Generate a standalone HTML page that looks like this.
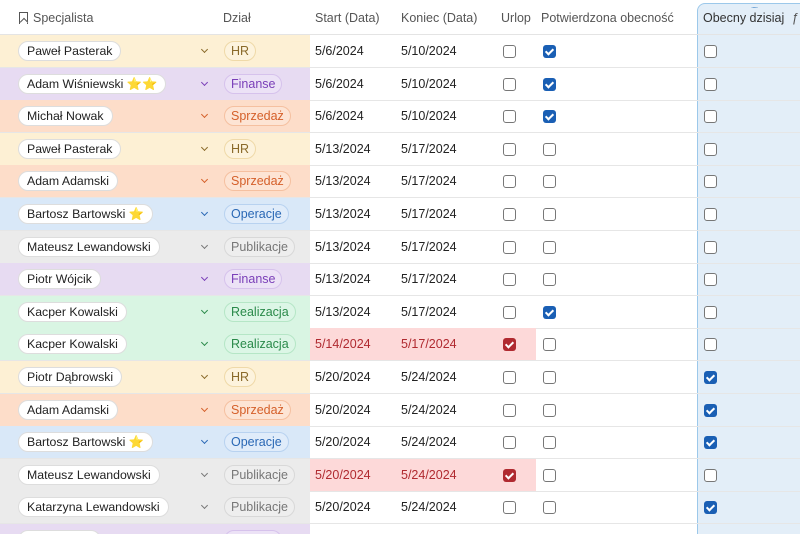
<!DOCTYPE html>
<html><head><meta charset="utf-8"><style>
*{box-sizing:border-box;margin:0;padding:0}
html,body{width:800px;height:534px;overflow:hidden}
body{background:#fff;font-family:"Liberation Sans","DejaVu Sans",sans-serif;font-size:12.5px;color:#222;position:relative}
.hd{position:absolute;top:0;left:0;width:800px;height:35px;border-bottom:1px solid #e4e4e4;color:#555;font-size:12.5px}
.hd span{position:absolute;top:11px}
.bm{position:absolute;left:19px;top:12px;width:9px;height:12px;border:1.5px solid #555;border-bottom:none}
.bm::after{content:"";position:absolute;left:1px;top:6px;width:5px;height:5px;border-left:1.5px solid #555;border-top:1.5px solid #555;transform:rotate(45deg);background:#fff}
.col{position:absolute;left:697px;top:3px;width:110px;height:540px;background:#e3eef8;border:1px solid #9cc8ea;border-radius:8px 0 0 0}
.row{position:absolute;left:0;width:800px;height:33px;border-bottom:1px solid #e6e6e6}
.bg{position:absolute;left:0;top:0;width:310px;height:32px}
.red{position:absolute;left:310px;top:0;width:226px;height:32px;background:#fdd9d9}
.name{position:absolute;left:18px;top:6px;height:20px;line-height:18px;padding:0 8px 0 8px;background:#fff;border:1px solid #ddd;border-radius:10px;color:#222;white-space:nowrap;font-size:12.3px}
.chev{position:absolute;left:202px;top:12px;width:5px;height:5px;border-right:1.5px solid;border-bottom:1.5px solid;transform:rotate(45deg)}
.dep{position:absolute;left:224px;top:6px;height:20px;line-height:18px;padding:0 6px;border-radius:10px;border:1px solid}
.d{position:absolute;top:9px}
.cb{position:absolute;top:10px;width:13px;height:13px;border:1.5px solid #777;border-radius:3px;background:#fff}
.ck{border:none;background:#1a5fb4}
.ck::after{content:"";position:absolute;left:4px;top:2px;width:3px;height:6px;border:solid #fff;border-width:0 2px 2px 0;transform:rotate(45deg)}
.rk{background:#b02a30}
.hr{background:#fdf0d4}.hr .dep{color:#8a6a2a;border-color:#efd9a8;background:#fdf3dd}.hr .chev{color:#8a6a2a}
.fi{background:#e7dbf2}.fi .dep{color:#7a3fb8;border-color:#d6c2ec;background:#ece2f6}.fi .chev{color:#7a3fb8}
.sp{background:#fdddc9}.sp .dep{color:#d5602a;border-color:#f5c0a0;background:#fde4d4}.sp .chev{color:#d5602a}
.op{background:#d9e8f8}.op .dep{color:#2a68b5;border-color:#b8d2f0;background:#e0ecfa}.op .chev{color:#2a68b5}
.pu{background:#ebebeb}.pu .dep{color:#777;border-color:#d8d8d8;background:#eeeeee}.pu .chev{color:#777}
.re{background:#d9f5e3}.re .dep{color:#2a8a4a;border-color:#b5e6c6;background:#dcf6e6}.re .chev{color:#2a8a4a}
.rt{color:#b02a30}
</style></head><body>
<div class="col"></div>
<div class="hd">
<div class="bm"></div><span style="left:33px">Specjalista</span>
<span style="left:223px">Dział</span><span style="left:315px">Start (Data)</span><span style="left:401px">Koniec (Data)</span>
<span style="left:501px">Urlop</span><span style="left:541px">Potwierdzona obecność</span><span style="left:703px;color:#333">Obecny dzisiaj</span>
<span style="left:792px;color:#555">ƒ</span>
<span style="left:751px;top:1px;font-size:8px;color:#4a8ac8;letter-spacing:-1px">.....</span>
</div>

<div class="row" style="top:35px"><div class="bg hr"><div class="name">Paweł Pasterak</div><div class="chev"></div><div class="dep">HR</div></div><span class="d" style="left:315px">5/6/2024</span><span class="d" style="left:401px">5/10/2024</span><span class="cb" style="left:503px"></span><span class="cb ck" style="left:543px"></span><span class="cb" style="left:704px"></span></div>
<div class="row" style="top:67.6px"><div class="bg fi"><div class="name">Adam Wiśniewski ⭐⭐</div><div class="chev"></div><div class="dep">Finanse</div></div><span class="d" style="left:315px">5/6/2024</span><span class="d" style="left:401px">5/10/2024</span><span class="cb" style="left:503px"></span><span class="cb ck" style="left:543px"></span><span class="cb" style="left:704px"></span></div>
<div class="row" style="top:100.2px"><div class="bg sp"><div class="name">Michał Nowak</div><div class="chev"></div><div class="dep">Sprzedaż</div></div><span class="d" style="left:315px">5/6/2024</span><span class="d" style="left:401px">5/10/2024</span><span class="cb" style="left:503px"></span><span class="cb ck" style="left:543px"></span><span class="cb" style="left:704px"></span></div>
<div class="row" style="top:132.8px"><div class="bg hr"><div class="name">Paweł Pasterak</div><div class="chev"></div><div class="dep">HR</div></div><span class="d" style="left:315px">5/13/2024</span><span class="d" style="left:401px">5/17/2024</span><span class="cb" style="left:503px"></span><span class="cb" style="left:543px"></span><span class="cb" style="left:704px"></span></div>
<div class="row" style="top:165.4px"><div class="bg sp"><div class="name">Adam Adamski</div><div class="chev"></div><div class="dep">Sprzedaż</div></div><span class="d" style="left:315px">5/13/2024</span><span class="d" style="left:401px">5/17/2024</span><span class="cb" style="left:503px"></span><span class="cb" style="left:543px"></span><span class="cb" style="left:704px"></span></div>
<div class="row" style="top:198px"><div class="bg op"><div class="name">Bartosz Bartowski ⭐</div><div class="chev"></div><div class="dep">Operacje</div></div><span class="d" style="left:315px">5/13/2024</span><span class="d" style="left:401px">5/17/2024</span><span class="cb" style="left:503px"></span><span class="cb" style="left:543px"></span><span class="cb" style="left:704px"></span></div>
<div class="row" style="top:230.6px"><div class="bg pu"><div class="name">Mateusz Lewandowski</div><div class="chev"></div><div class="dep">Publikacje</div></div><span class="d" style="left:315px">5/13/2024</span><span class="d" style="left:401px">5/17/2024</span><span class="cb" style="left:503px"></span><span class="cb" style="left:543px"></span><span class="cb" style="left:704px"></span></div>
<div class="row" style="top:263.2px"><div class="bg fi"><div class="name">Piotr Wójcik</div><div class="chev"></div><div class="dep">Finanse</div></div><span class="d" style="left:315px">5/13/2024</span><span class="d" style="left:401px">5/17/2024</span><span class="cb" style="left:503px"></span><span class="cb" style="left:543px"></span><span class="cb" style="left:704px"></span></div>
<div class="row" style="top:295.8px"><div class="bg re"><div class="name">Kacper Kowalski</div><div class="chev"></div><div class="dep">Realizacja</div></div><span class="d" style="left:315px">5/13/2024</span><span class="d" style="left:401px">5/17/2024</span><span class="cb" style="left:503px"></span><span class="cb ck" style="left:543px"></span><span class="cb" style="left:704px"></span></div>
<div class="row" style="top:328.4px"><div class="bg re"><div class="name">Kacper Kowalski</div><div class="chev"></div><div class="dep">Realizacja</div></div><div class="red"></div><span class="d rt" style="left:315px">5/14/2024</span><span class="d rt" style="left:401px">5/17/2024</span><span class="cb ck rk" style="left:503px"></span><span class="cb" style="left:543px"></span><span class="cb" style="left:704px"></span></div>
<div class="row" style="top:361px"><div class="bg hr"><div class="name">Piotr Dąbrowski</div><div class="chev"></div><div class="dep">HR</div></div><span class="d" style="left:315px">5/20/2024</span><span class="d" style="left:401px">5/24/2024</span><span class="cb" style="left:503px"></span><span class="cb" style="left:543px"></span><span class="cb ck" style="left:704px"></span></div>
<div class="row" style="top:393.6px"><div class="bg sp"><div class="name">Adam Adamski</div><div class="chev"></div><div class="dep">Sprzedaż</div></div><span class="d" style="left:315px">5/20/2024</span><span class="d" style="left:401px">5/24/2024</span><span class="cb" style="left:503px"></span><span class="cb" style="left:543px"></span><span class="cb ck" style="left:704px"></span></div>
<div class="row" style="top:426.2px"><div class="bg op"><div class="name">Bartosz Bartowski ⭐</div><div class="chev"></div><div class="dep">Operacje</div></div><span class="d" style="left:315px">5/20/2024</span><span class="d" style="left:401px">5/24/2024</span><span class="cb" style="left:503px"></span><span class="cb" style="left:543px"></span><span class="cb ck" style="left:704px"></span></div>
<div class="row" style="top:458.8px"><div class="bg pu"><div class="name">Mateusz Lewandowski</div><div class="chev"></div><div class="dep">Publikacje</div></div><div class="red"></div><span class="d rt" style="left:315px">5/20/2024</span><span class="d rt" style="left:401px">5/24/2024</span><span class="cb ck rk" style="left:503px"></span><span class="cb" style="left:543px"></span><span class="cb" style="left:704px"></span></div>
<div class="row" style="top:491.4px"><div class="bg pu"><div class="name">Katarzyna Lewandowski</div><div class="chev"></div><div class="dep">Publikacje</div></div><span class="d" style="left:315px">5/20/2024</span><span class="d" style="left:401px">5/24/2024</span><span class="cb" style="left:503px"></span><span class="cb" style="left:543px"></span><span class="cb ck" style="left:704px"></span></div>
<div class="row" style="top:524px"><div class="bg fi"><div class="name">Piotr Wójcik</div><div class="dep">Finanse</div></div><span class="cb" style="left:704px"></span></div>
</body></html>
